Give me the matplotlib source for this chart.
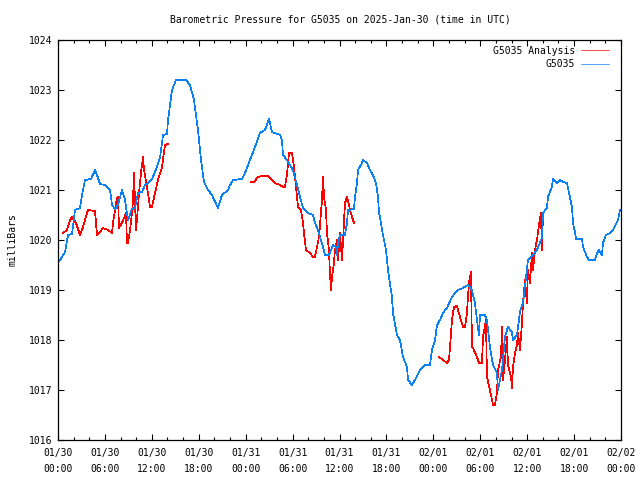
import numpy as np
import matplotlib
matplotlib.use("Agg")
import matplotlib.pyplot as plt

# hours since 2025-01-30 00:00 UTC, pressure in milliBars
station_hours = [
    0.0, 0.26, 0.9, 1.28, 1.79, 2.17, 2.81, 3.07, 3.45, 4.22, 4.73, 4.99, 5.37, 6.01,
    6.65, 6.91, 7.29, 7.67, 8.18, 8.57, 8.95, 9.46, 9.85, 10.23, 10.74, 11.13, 11.51,
    12.02, 12.4, 13.04, 13.43, 13.94, 14.07, 14.58, 15.09, 16.37, 16.88, 17.39, 17.9,
    18.29, 18.67, 19.18, 19.69, 20.46, 20.97, 21.74, 22.0, 22.38, 23.53, 23.91, 24.55,
    25.19, 25.83, 26.47, 26.98, 27.37, 28.39, 28.64, 28.77, 29.28, 29.67, 30.05, 30.56,
    30.95, 31.33, 31.97, 32.61, 32.86, 33.25, 33.5, 33.89, 34.14, 34.65, 35.17, 35.55,
    35.68, 35.81, 36.06, 36.7, 36.96, 37.08, 37.85, 37.98, 38.24, 38.36, 38.75, 39.0,
    39.51, 39.9, 40.28, 40.66, 40.92, 41.05, 41.56, 41.94, 42.2, 42.71, 42.84, 43.35,
    43.73, 44.12, 44.63, 44.76, 45.27, 45.65, 46.29, 46.93, 47.57, 47.83, 48.21, 48.47,
    48.85, 49.23, 49.74, 50.38, 50.77, 51.15, 51.79, 52.43, 52.94, 53.32, 53.58, 53.84,
    53.96, 54.6, 54.86, 55.24, 55.63, 56.14, 56.27, 56.78, 57.16, 57.54, 58.06, 58.18,
    58.7, 59.08, 59.46, 59.97, 60.1, 60.74, 61.25, 61.89, 62.02, 62.53, 62.66, 63.17,
    63.3, 63.81, 64.2, 64.58, 65.09, 65.47, 65.73, 65.86, 66.11, 66.24, 67.01, 67.14,
    67.65, 67.9, 68.67, 68.93, 69.18, 69.57, 69.69, 70.08, 70.59, 70.97, 71.36, 71.61,
    71.87,
]
station_mb = [
    1019.56, 1019.6, 1019.76, 1020.1, 1020.12, 1020.6, 1020.64, 1020.9, 1021.2, 1021.22,
    1021.4, 1021.3, 1021.12, 1021.1, 1021.0, 1020.7, 1020.62, 1020.7, 1021.0, 1020.8,
    1020.4, 1020.62, 1020.64, 1020.94, 1020.96, 1021.1, 1021.14, 1021.22, 1021.36,
    1021.64, 1022.1, 1022.12, 1022.4, 1023.0, 1023.2, 1023.2, 1023.1, 1022.8, 1022.2,
    1021.6, 1021.16, 1021.0, 1020.9, 1020.64, 1020.9, 1021.0, 1021.1, 1021.2, 1021.22,
    1021.34, 1021.6, 1021.86, 1022.14, 1022.2, 1022.42, 1022.16, 1022.1, 1022.0, 1021.7,
    1021.6, 1021.5, 1021.4, 1021.1, 1020.86, 1020.64, 1020.54, 1020.5, 1020.34, 1020.2,
    1020.06, 1019.86, 1019.7, 1019.7, 1019.9, 1019.86, 1019.7, 1019.94, 1020.1, 1020.1,
    1020.34, 1020.6, 1020.62, 1020.86, 1021.14, 1021.4, 1021.5, 1021.6, 1021.54, 1021.4,
    1021.3, 1021.14, 1020.86, 1020.56, 1020.1, 1019.8, 1019.4, 1018.86, 1018.54, 1018.1,
    1018.0, 1017.66, 1017.46, 1017.2, 1017.1, 1017.2, 1017.4, 1017.5, 1017.5, 1017.8,
    1018.0, 1018.3, 1018.4, 1018.54, 1018.64, 1018.86, 1018.94, 1019.0, 1019.04, 1019.1,
    1019.0, 1018.74, 1018.4, 1018.1, 1018.5, 1018.5, 1018.4, 1017.86, 1017.5, 1017.34,
    1017.0, 1017.4, 1018.06, 1018.26, 1018.16, 1018.0, 1018.1, 1018.56, 1018.74, 1019.4,
    1019.6, 1019.7, 1019.8, 1020.04, 1020.54, 1020.64, 1020.86, 1021.06, 1021.22,
    1021.14, 1021.2, 1021.16, 1021.14, 1020.86, 1020.66, 1020.34, 1020.16, 1020.02,
    1020.02, 1019.86, 1019.66, 1019.6, 1019.6, 1019.74, 1019.8, 1019.7, 1019.94, 1020.1,
    1020.14, 1020.2, 1020.32, 1020.4, 1020.6,
]

# analysis series, None marks a gap
analysis_hours = [
    0.64, 1.15, 1.53, 1.79, 2.3, 2.81, 3.2, 3.71, 3.84, 4.73, 4.99, 5.37, 5.75, 6.39,
    6.91, 7.03, 7.29, 7.54, 7.67, 7.8, 8.18, 8.44, 8.7, 8.82, 8.95, 9.21, 9.46, 9.59,
    9.72, 9.97, 10.23, 10.36, 10.61, 10.87, 11.0, 11.38, 11.77, 12.02, 12.4, 12.79,
    13.3, 13.68, 14.07,
    None,
    24.68, 25.06, 25.58, 26.09, 26.85, 27.37, 27.75, 28.39, 28.77, 29.03, 29.28, 29.54,
    29.92, 30.18, 30.43, 30.69, 31.07, 31.33, 31.46, 31.71, 32.23, 32.61, 32.86, 33.12,
    33.38, 33.76, 33.89, 34.02, 34.27, 34.4, 34.65, 34.78, 34.91, 35.04, 35.29, 35.42,
    35.68, 35.81, 35.93, 36.06, 36.32, 36.45, 36.7, 36.96, 37.08, 37.34, 37.6, 37.85,
    None,
    48.72, 49.23, 49.74, 50.0, 50.13, 50.38, 50.64, 51.02, 51.15, 51.41, 51.79, 52.05,
    52.3, 52.43, 52.56, 52.81, 52.94, 53.07, 53.58, 53.84, 54.22, 54.35, 54.73, 54.86,
    55.24, 55.63, 55.88, 56.14, 56.27, 56.65, 56.78, 56.91, 57.16, 57.42, 57.54, 57.93,
    58.06, 58.18, 58.44, 58.7, 58.82, 59.08, 59.34, 59.46, 59.72, 59.97, 60.1, 60.36,
    60.61, 60.74, 61.0, 61.25, 61.64, 61.76, 61.89, 62.02,
]
analysis_mb = [
    1020.14, 1020.2, 1020.4, 1020.46, 1020.34, 1020.1, 1020.26, 1020.54, 1020.6, 1020.58,
    1020.1, 1020.16, 1020.24, 1020.2, 1020.14, 1020.34, 1020.6, 1020.84, 1020.86,
    1020.24, 1020.34, 1020.44, 1020.54, 1019.94, 1019.94, 1020.2, 1020.54, 1020.8,
    1021.34, 1020.2, 1020.66, 1020.94, 1021.34, 1021.66, 1021.4, 1021.06, 1020.66,
    1020.66, 1020.94, 1021.2, 1021.46, 1021.9, 1021.92,
    None,
    1021.16, 1021.16, 1021.26, 1021.28, 1021.28, 1021.2, 1021.14, 1021.1, 1021.06,
    1021.06, 1021.3, 1021.74, 1021.74, 1021.46, 1021.06, 1020.66, 1020.6, 1020.34,
    1020.14, 1019.8, 1019.74, 1019.66, 1019.66, 1019.86, 1020.06, 1020.8, 1021.26,
    1020.86, 1020.6, 1020.14, 1019.8, 1019.34, 1019.0, 1019.26, 1019.54, 1019.8, 1020.0,
    1019.6, 1019.86, 1020.14, 1019.6, 1020.0, 1020.74, 1020.86, 1020.8, 1020.6, 1020.46,
    1020.34,
    None,
    1017.66, 1017.6, 1017.54, 1017.6, 1017.84, 1018.4, 1018.66, 1018.68, 1018.6,
    1018.46, 1018.26, 1018.26, 1018.54, 1018.86, 1019.14, 1019.36, 1017.86, 1017.84,
    1017.66, 1017.54, 1017.54, 1018.06, 1018.4, 1017.26, 1017.0, 1016.7, 1016.7,
    1016.94, 1017.4, 1017.66, 1018.26, 1017.2, 1017.6, 1018.06, 1017.5, 1017.26,
    1017.04, 1017.46, 1017.74, 1017.9, 1018.14, 1017.8, 1018.34, 1018.74, 1019.2,
    1018.74, 1019.4, 1019.14, 1019.74, 1019.4, 1019.8, 1020.0, 1020.44, 1020.54,
    1019.8, 1020.5,
]

tick_hours = [0, 6, 12, 18, 24, 30, 36, 42, 48, 54, 60, 66, 72]
tick_labels = [
    "01/30\n00:00", "01/30\n06:00", "01/30\n12:00", "01/30\n18:00",
    "01/31\n00:00", "01/31\n06:00", "01/31\n12:00", "01/31\n18:00",
    "02/01\n00:00", "02/01\n06:00", "02/01\n12:00", "02/01\n18:00",
    "02/02\n00:00",
]
y_ticks = [1016, 1017, 1018, 1019, 1020, 1021, 1022, 1023, 1024]


def to_array(values):
    return np.array([np.nan if v is None else v for v in values], dtype=float)


def main():
    plt.rcParams["font.family"] = ["DejaVu Sans Mono"]
    plt.rcParams["font.size"] = 7

    fig = plt.figure(figsize=(6.4, 4.8), dpi=100)
    ax = fig.add_axes([58 / 640, 40 / 480, 563 / 640, 400 / 480])

    ax.plot(to_array(analysis_hours), to_array(analysis_mb), color="#ff0000",
            linewidth=0.5, label="G5035 Analysis", antialiased=False)
    ax.plot(station_hours, station_mb, color="#0a80f5",
            linewidth=0.5, label="G5035", antialiased=False)

    ax.set_xlim(0, 72)
    ax.set_ylim(1016, 1024)
    ax.set_xticks(tick_hours)
    ax.set_xticklabels(tick_labels, linespacing=1.7)
    ax.set_xticks(np.arange(0, 73, 2), minor=True)
    ax.set_yticks(y_ticks)

    ax.tick_params(which="both", direction="in", top=True, right=True,
                   colors="black", labelsize=7)
    ax.tick_params(which="major", length=4.5, width=0.8)
    ax.tick_params(axis="x", which="major", pad=6)
    ax.tick_params(axis="y", which="major", pad=4)
    ax.tick_params(which="minor", length=2.2, width=0.8)
    for s in ax.spines.values():
        s.set_linewidth(0.9)

    ax.set_ylabel("milliBars", fontsize=7, labelpad=8)
    fig.text(340 / 640, 1 - 20 / 480,
             "Barometric Pressure for G5035 on 2025-Jan-30 (time in UTC)",
             ha="center", va="center", fontsize=7)

    ax.legend(loc="upper right", bbox_to_anchor=(0.991, 1.0025), frameon=False,
              markerfirst=False, handlelength=2.9, fontsize=7, borderaxespad=0.3,
              labelspacing=0.35, handletextpad=0.6)

    fig.savefig("out.png", dpi=100)


if __name__ == "__main__":
    main()
